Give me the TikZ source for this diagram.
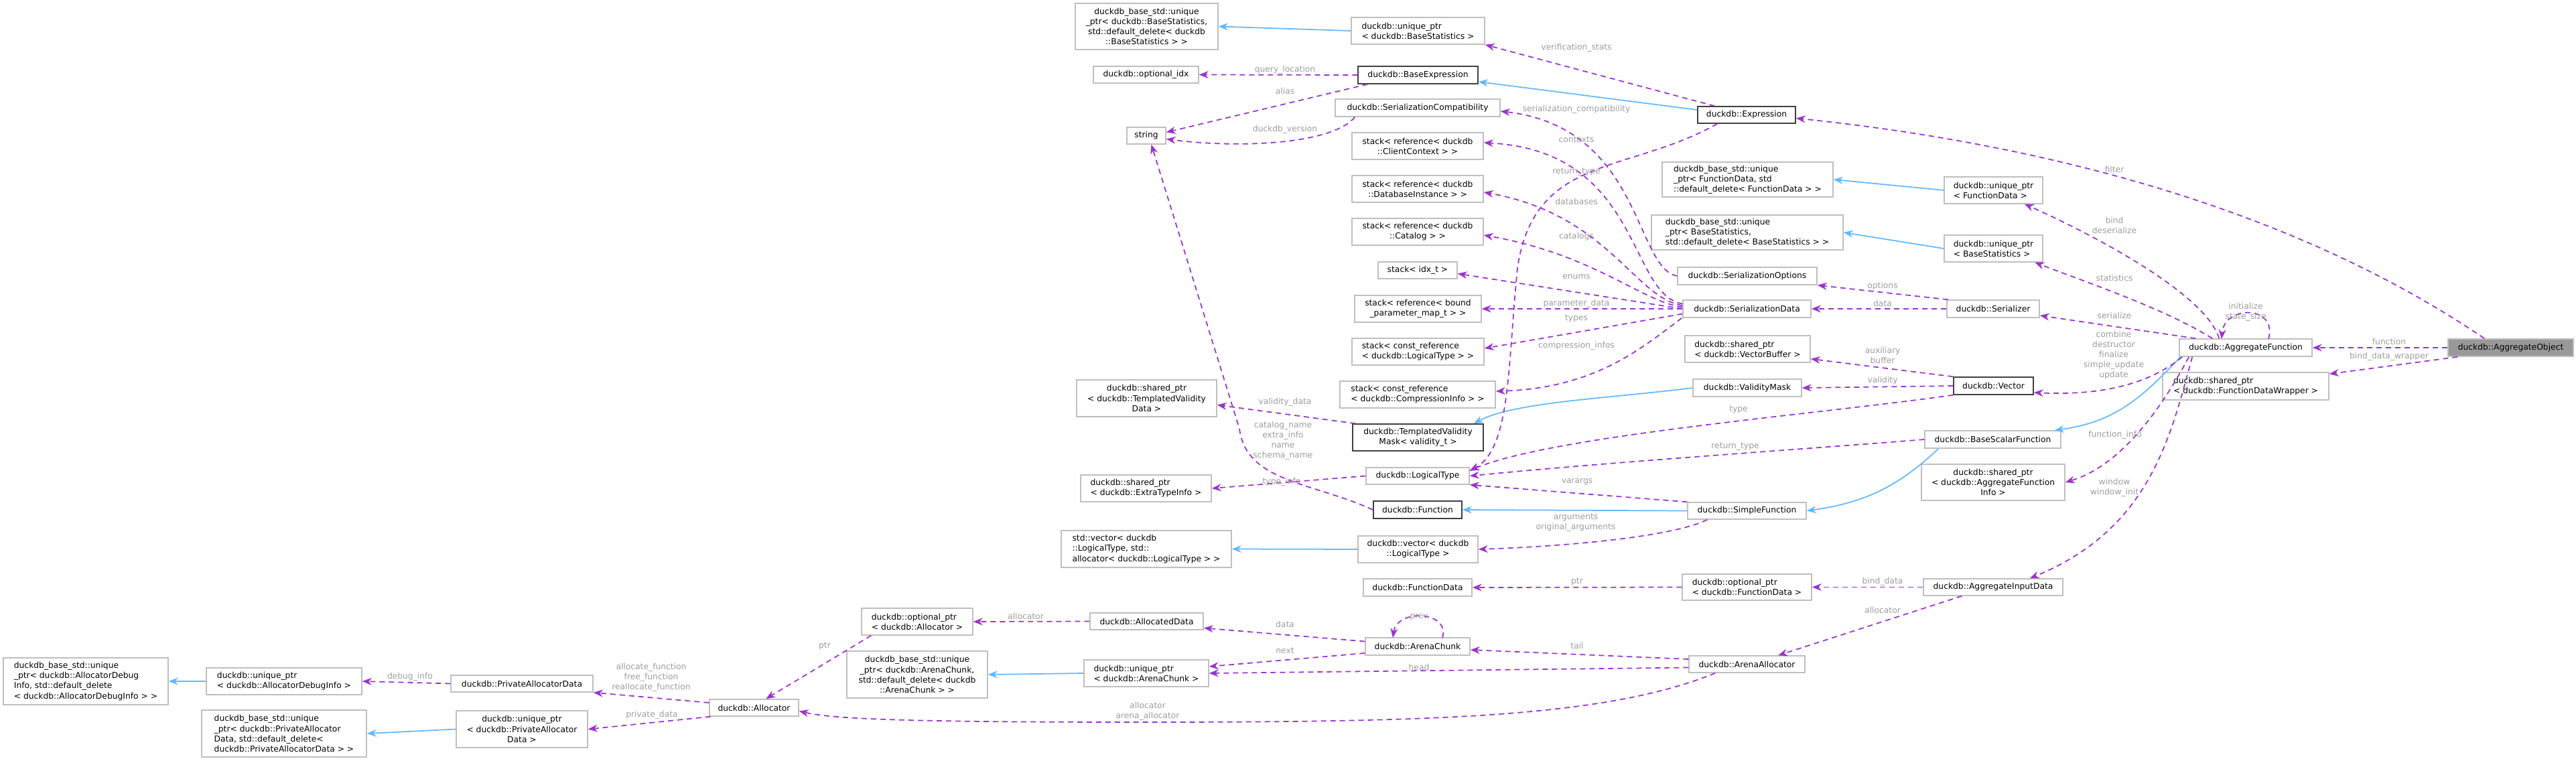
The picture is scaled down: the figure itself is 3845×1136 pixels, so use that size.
\documentclass[tikz,border=0pt]{standalone}
\usepackage{fontspec}
\setmainfont{DejaVu Sans}
\usetikzlibrary{arrows.meta}
\definecolor{purp}{HTML}{9A32CD}
\definecolor{blu}{HTML}{63B8FF}
\definecolor{boxgray}{HTML}{BFBFBF}
\definecolor{dkgray}{HTML}{404040}
\definecolor{lblgray}{HTML}{9C9C9C}
\definecolor{aofill}{HTML}{999999}
\newcommand\nf{\fontsize{7}{8.6}\selectfont}
\newcommand\nd[7][]{\node[box,align=left,#1,minimum width={(#5-#3)*0.02cm},minimum height={(#6-#4)*0.02cm}] (#2) at ({(#3+#5)/2},{(#4+#6)/2}) {#7};}
\begin{document}
\begin{tikzpicture}[x=0.02cm,y=-0.02cm,
  box/.style={draw=boxgray,line width=0.03cm,fill=white,inner sep=0pt,font=\nf},
  dk/.style={draw=dkgray},
  dep/.style={draw=purp,line width=0.035cm,dash pattern=on 0.16cm off 0.12cm,-{Stealth[length=0.28cm,width=0.22cm,fill=purp]}},
  inh/.style={draw=blu,line width=0.035cm,-{Stealth[length=0.28cm,width=0.22cm,fill=blu]}},
  lbl/.style={text=lblgray,font=\nf,align=center,inner sep=0pt}]
\useasboundingbox (0,0) rectangle (3845,1136);
% nodes
\nd[fill=aofill,align=center]{AO}{3654}{506}{3841}{532}{duckdb::AggregateObject}
\nd[align=center]{AF}{3253}{506}{3451}{532}{duckdb::AggregateFunction}
\nd{FDW}{3228}{556}{3476}{597}{duckdb::shared\_ptr\\< duckdb::FunctionDataWrapper >}
\nd{UPFD}{2902}{264}{3049}{304}{duckdb::unique\_ptr\\< FunctionData >}
\nd{UPBS2}{2902}{351}{3049}{391}{duckdb::unique\_ptr\\< BaseStatistics >}
\nd[align=center]{SER}{2906}{448}{3044}{474}{duckdb::Serializer}
\nd[dk,align=center]{VEC}{2916}{563}{3035}{589}{duckdb::Vector}
\nd[align=center]{BSF}{2873}{643}{3076}{669}{duckdb::BaseScalarFunction}
\nd[align=center]{AFI}{2868}{693}{3082}{747}{duckdb::shared\_ptr\\< duckdb::AggregateFunction\\Info >}
\nd[align=center]{AID}{2871}{864}{3079}{889}{duckdb::AggregateInputData}
\nd{FDB}{2481}{242}{2736}{294}{duckdb\_base\_std::unique\\\_ptr< FunctionData, std\\::default\_delete< FunctionData > >}
\nd{BSB2}{2465}{321}{2751}{373}{duckdb\_base\_std::unique\\\_ptr< BaseStatistics,\\std::default\_delete< BaseStatistics > >}
\nd[align=center]{SO}{2504}{399}{2712}{425}{duckdb::SerializationOptions}
\nd[align=center]{SD}{2512}{448}{2703}{474}{duckdb::SerializationData}
\nd{VB}{2515}{501}{2702}{541}{duckdb::shared\_ptr\\< duckdb::VectorBuffer >}
\nd[align=center]{VM}{2527}{566}{2689}{592}{duckdb::ValidityMask}
\nd[align=center]{SF}{2519}{750}{2696}{775}{duckdb::SimpleFunction}
\nd{OFD}{2511}{857}{2704}{896}{duckdb::optional\_ptr\\< duckdb::FunctionData >}
\nd[align=center]{AA}{2521}{979}{2694}{1004}{duckdb::ArenaAllocator}
\nd[dk,align=center]{EX}{2534}{159}{2680}{184}{duckdb::Expression}
\nd[align=center]{BSB}{1605}{5}{1818}{74}{duckdb\_base\_std::unique\\\_ptr< duckdb::BaseStatistics,\\std::default\_delete< duckdb\\::BaseStatistics > >}
\nd{UPBS}{2017}{26}{2216}{66}{duckdb::unique\_ptr\\< duckdb::BaseStatistics >}
\nd[align=center]{OIDX}{1632}{99}{1789}{124}{duckdb::optional\_idx}
\nd[dk,align=center]{BE}{2027}{99}{2206}{125}{duckdb::BaseExpression}
\nd[align=center]{STR}{1682}{190}{1740}{215}{string}
\nd[align=center]{SC}{1993}{148}{2239}{174}{duckdb::SerializationCompatibility}
\nd[align=center]{SCC}{2018}{198}{2214}{238}{stack< reference< duckdb\\::ClientContext > >}
\nd[align=center]{SDB}{2018}{262}{2214}{302}{stack< reference< duckdb\\::DatabaseInstance > >}
\nd[align=center]{SCAT}{2018}{326}{2214}{366}{stack< reference< duckdb\\::Catalog > >}
\nd[align=center]{SIDX}{2057}{391}{2175}{416}{stack< idx\_t >}
\nd[align=center]{SBP}{2022}{441}{2211}{481}{stack< reference< bound\\\_parameter\_map\_t > >}
\nd{SLT}{2018}{505}{2215}{545}{stack< const\_reference\\< duckdb::LogicalType > >}
\nd{SCI}{2000}{569}{2232}{609}{stack< const\_reference\\< duckdb::CompressionInfo > >}
\nd[align=center]{TVD}{1607}{567}{1816}{622}{duckdb::shared\_ptr\\< duckdb::TemplatedValidity\\Data >}
\nd[dk,align=center]{TV}{2019}{633}{2214}{673}{duckdb::TemplatedValidity\\Mask< validity\_t >}
\nd[align=center]{LT}{2039}{698}{2193}{723}{duckdb::LogicalType}
\nd{ET}{1613}{709}{1808}{749}{duckdb::shared\_ptr\\< duckdb::ExtraTypeInfo >}
\nd[dk,align=center]{FN}{2050}{748}{2182}{774}{duckdb::Function}
\nd{SVL}{1584}{792}{1838}{847}{std::vector< duckdb\\::LogicalType, std::\\allocator< duckdb::LogicalType > >}
\nd[align=center]{VLT}{2027}{800}{2206}{840}{duckdb::vector< duckdb\\::LogicalType >}
\nd[align=center]{FD}{2035}{864}{2197}{890}{duckdb::FunctionData}
\nd{OA}{1286}{908}{1452}{948}{duckdb::optional\_ptr\\< duckdb::Allocator >}
\nd[align=center]{AD}{1627}{915}{1796}{940}{duckdb::AllocatedData}
\nd[align=center]{AC}{2038}{952}{2194}{978}{duckdb::ArenaChunk}
\nd[align=center]{ACB}{1264}{972}{1474}{1042}{duckdb\_base\_std::unique\\\_ptr< duckdb::ArenaChunk,\\std::default\_delete< duckdb\\::ArenaChunk > >}
\nd{UPAC}{1618}{985}{1804}{1025}{duckdb::unique\_ptr\\< duckdb::ArenaChunk >}
\nd[align=center]{AL}{1059}{1044}{1192}{1069}{duckdb::Allocator}
\nd[align=center]{PAD}{673}{1008}{885}{1033}{duckdb::PrivateAllocatorData}
\nd[align=center]{UPPA}{681}{1061}{877}{1116}{duckdb::unique\_ptr\\< duckdb::PrivateAllocator\\Data >}
\nd{PAB}{301}{1060}{547}{1130}{duckdb\_base\_std::unique\\\_ptr< duckdb::PrivateAllocator\\Data, std::default\_delete<\\ duckdb::PrivateAllocatorData > >}
\nd{UPAD}{308}{997}{540}{1037}{duckdb::unique\_ptr\\< duckdb::AllocatorDebugInfo >}
\nd{ADB}{5}{982}{251}{1052}{duckdb\_base\_std::unique\\\_ptr< duckdb::AllocatorDebug\\Info, std::default\_delete\\< duckdb::AllocatorDebugInfo > >}
% inheritance
\draw[inh] ([xshift=0.05cm]AF.south west) .. controls (3200,590) and (3160,630) .. ([xshift=-0.2cm]BSF.north east);
\draw[inh] ([xshift=0.42cm]BSF.south west) .. controls (2840,720) and (2790,750) .. (SF.east);
\draw[inh] (SF.west) -- (FN.east);
\draw[inh] ([yshift=0.15cm]EX.west) -- ([yshift=-0.2cm]BE.east);
\draw[inh] (UPBS.west) -- (BSB.east);
\draw[inh] (UPFD.west) -- (FDB.east);
\draw[inh] (UPBS2.west) -- (BSB2.east);
\draw[inh] (VM.west) .. controls (2400,595) and (2260,600) .. ([xshift=-0.3cm]TV.north east);
\draw[inh] (VLT.west) -- (SVL.east);
\draw[inh] (UPAC.west) -- (ACB.east);
\draw[inh] (UPAD.west) -- (ADB.east);
\draw[inh] (UPPA.west) -- (PAB.east);
% usage
\draw[dep] ([xshift=1.1cm]AO.north west) .. controls (3450,330) and (3100,220) .. ([yshift=-0.1cm]EX.east);
\draw[dep] (AO.west) -- (AF.east);
\draw[dep] ([xshift=0.3cm]AO.south west) -- ([yshift=-0.06cm]FDW.north east);
\draw[dep] ([xshift=1.2cm]AF.north west) .. controls (3290,430) and (3080,330) .. ([xshift=-0.56cm]UPFD.south east);
\draw[dep] ([xshift=1.0cm]AF.north west) .. controls (3230,460) and (3110,420) .. ([xshift=-0.25cm]UPBS2.south east);
\draw[dep] ([xshift=0.5cm]AF.north west) -- ([yshift=-0.2cm]SER.east);
\coordinate (afl1) at (3386,506); \coordinate (afl2) at (3316,506);
\draw[dep] (afl1) .. controls (3400,455) and (3320,455) .. (afl2);
\draw[dep] ([xshift=0.1cm]AF.south west) .. controls (3200,580) and (3120,590) .. ([yshift=-0.2cm]VEC.east);
\draw[dep] ([xshift=0.3cm]AF.south west) .. controls (3210,640) and (3150,700) .. (AFI.east);
\draw[dep] ([xshift=0.4cm]AF.south west) .. controls (3240,650) and (3210,790) .. ([xshift=-1.0cm]AID.north east);
\draw[dep] ([xshift=0.05cm]SER.north west) -- (SO.south east);
\draw[dep] (SER.west) -- (SD.east);
\draw[dep] (VEC.north west) -- ([yshift=0.12cm]VB.south east);
\draw[dep] (VEC.west) -- (VM.east);
\draw[dep] (VEC.south west) .. controls (2700,620) and (2320,650) .. ([yshift=-0.1cm]LT.north east);
\draw[dep] (BSF.west) .. controls (2700,670) and (2400,690) .. (LT.east);
\draw[dep] (SF.north west) -- (LT.south east);
\draw[dep] ([xshift=0.6cm]SF.south west) .. controls (2500,800) and (2350,815) .. (VLT.east);
\draw[dep] ([xshift=0.6cm]EX.south west) .. controls (2430,260) and (2290,230) .. (2265,400) .. controls (2250,550) and (2255,670) .. ([yshift=0.15cm]LT.east);
\draw[dep] ([xshift=0.52cm]EX.north west) -- (UPBS.south east);
\draw[dep] (SO.west) .. controls (2440,400) and (2450,190) .. ([yshift=-0.1cm]SC.east);
\draw[dep] ([yshift=0.15cm]SD.west) .. controls (2430,440) and (2450,225) .. ([yshift=0.1cm]SCC.east);
\draw[dep] ([yshift=0.1cm]SD.west) .. controls (2440,445) and (2400,320) .. ([yshift=-0.1cm]SDB.east);
\draw[dep] ([yshift=0.05cm]SD.west) .. controls (2450,450) and (2380,380) .. ([yshift=-0.1cm]SCAT.east);
\draw[dep] (SD.west) -- ([yshift=-0.1cm]SIDX.east);
\draw[dep] (SD.west) -- (SBP.east);
\draw[dep] ([yshift=-0.15cm]SD.west) -- ([yshift=0.1cm]SLT.east);
\draw[dep] ([xshift=-0.02cm]SD.south west) .. controls (2450,520) and (2380,580) .. ([yshift=0.1cm]SCI.east);
\draw[dep] (BE.west) -- (OIDX.east);
\draw[dep] ([xshift=0.3cm]BE.south west) -- ([yshift=0.1cm]STR.east);
\draw[dep] ([xshift=0.6cm]SC.south west) .. controls (1990,215) and (1850,222) .. ([yshift=-0.1cm]STR.east);
\draw[dep] (FN.west) .. controls (1960,720) and (1860,720) .. (1850,640) -- ([xshift=0.15cm]STR.south);
\draw[dep] ([xshift=0.1cm]TV.north west) -- ([yshift=-0.2cm]TVD.east);
\draw[dep] (LT.west) -- (ET.east);
\draw[dep] (OFD.west) -- (FD.east);
\draw[dep] (AID.west) -- (OFD.east);
\draw[dep] ([xshift=1.16cm]AID.south west) -- ([xshift=2.68cm]AA.north west);
\draw[dep] ([yshift=0.15cm]AA.west) -- ([yshift=-0.1cm]AC.east);
\draw[dep] ([yshift=-0.1cm]AA.west) -- (UPAC.east);
\draw[dep] ([xshift=0.8cm]AA.south west) .. controls (2400,1070) and (2150,1078) .. (1713,1078) .. controls (1400,1078) and (1250,1075) .. ([yshift=-0.1cm]AL.east);
\coordinate (acl1) at (2153,952); \coordinate (acl2) at (2079,952);
\draw[dep] (acl1) .. controls (2165,912) and (2085,908) .. (acl2);
\draw[dep] ([yshift=0.15cm]AC.west) -- ([yshift=-0.2cm]AD.east);
\draw[dep] ([yshift=-0.2cm]AC.west) -- ([yshift=0.2cm]UPAC.east);
\draw[dep] (AD.west) -- (OA.east);
\draw[dep] ([xshift=0.3cm]OA.south west) -- ([xshift=1.7cm]AL.north west);
\draw[dep] ([yshift=0.15cm]AL.west) -- (PAD.south east);
\draw[dep] ([xshift=0.05cm]AL.south west) -- (UPPA.east);
\draw[dep] (PAD.west) -- (UPAD.east);
% labels
\node[lbl] (l1) at (3156,253) {filter};
\node[lbl] (l2) at (3566,510) {function};
\node[lbl] (l3) at (3566,532) {bind\_data\_wrapper};
\node[lbl] (l4) at (3156,336) {bind\\deserialize};
\node[lbl] (l5) at (3156,415) {statistics};
\node[lbl] (l6) at (3156,471) {serialize};
\node[lbl] (l7) at (3352,466) {initialize\\state\_size};
\node[lbl] (l8) at (3155,530) {combine\\destructor\\finalize\\simple\_update\\update};
\node[lbl] (l9) at (3157,649) {function\_info};
\node[lbl] (l10) at (3156,728) {window\\window\_init};
\node[lbl] (l11) at (2810,427) {options};
\node[lbl] (l12) at (2810,453) {data};
\node[lbl] (l13) at (2810,530) {auxiliary\\buffer};
\node[lbl] (l14) at (2810,568) {validity};
\node[lbl] (l15) at (2595,611) {type};
\node[lbl] (l16) at (2590,667) {return\_type};
\node[lbl] (l17) at (2354,719) {varargs};
\node[lbl] (l18) at (2352,780) {arguments\\original\_arguments};
\node[lbl] (l19) at (2353,257) {return\_type};
\node[lbl] (l20) at (2353,71) {verification\_stats};
\node[lbl] (l21) at (1918,104) {query\_location};
\node[lbl] (l22) at (1918,136) {alias};
\node[lbl] (l23) at (1918,193) {duckdb\_version};
\node[lbl] (l24) at (2353,163) {serialization\_compatibility};
\node[lbl] (l25) at (2353,208) {contexts};
\node[lbl] (l26) at (2353,301) {databases};
\node[lbl] (l27) at (2353,353) {catalogs};
\node[lbl] (l28) at (2353,413) {enums};
\node[lbl] (l29) at (2353,453) {parameter\_data};
\node[lbl] (l30) at (2353,475) {types};
\node[lbl] (l31) at (2353,516) {compression\_infos};
\node[lbl] (l32) at (1918,600) {validity\_data};
\node[lbl] (l33) at (1915,658) {catalog\_name\\extra\_info\\name\\schema\_name};
\node[lbl] (l34) at (1913,719) {type\_info};
\node[lbl] (l35) at (2354,868) {ptr};
\node[lbl] (l36) at (2810,868) {bind\_data};
\node[lbl] (l37) at (2810,911) {allocator};
\node[lbl] (l38) at (2354,964) {tail};
\node[lbl] (l39) at (2118,996) {head};
\node[lbl] (l40) at (1713,1062) {allocator\\arena\_allocator};
\node[lbl] (l41) at (2118,921) {prev};
\node[lbl] (l42) at (1918,932) {data};
\node[lbl] (l43) at (1918,971) {next};
\node[lbl] (l44) at (1531,920) {allocator};
\node[lbl] (l45) at (1231,964) {ptr};
\node[lbl] (l46) at (972,1011) {allocate\_function\\free\_function\\reallocate\_function};
\node[lbl] (l47) at (973,1067) {private\_data};
\node[lbl] (l48) at (612,1010) {debug\_info};
\end{tikzpicture}
\end{document}
